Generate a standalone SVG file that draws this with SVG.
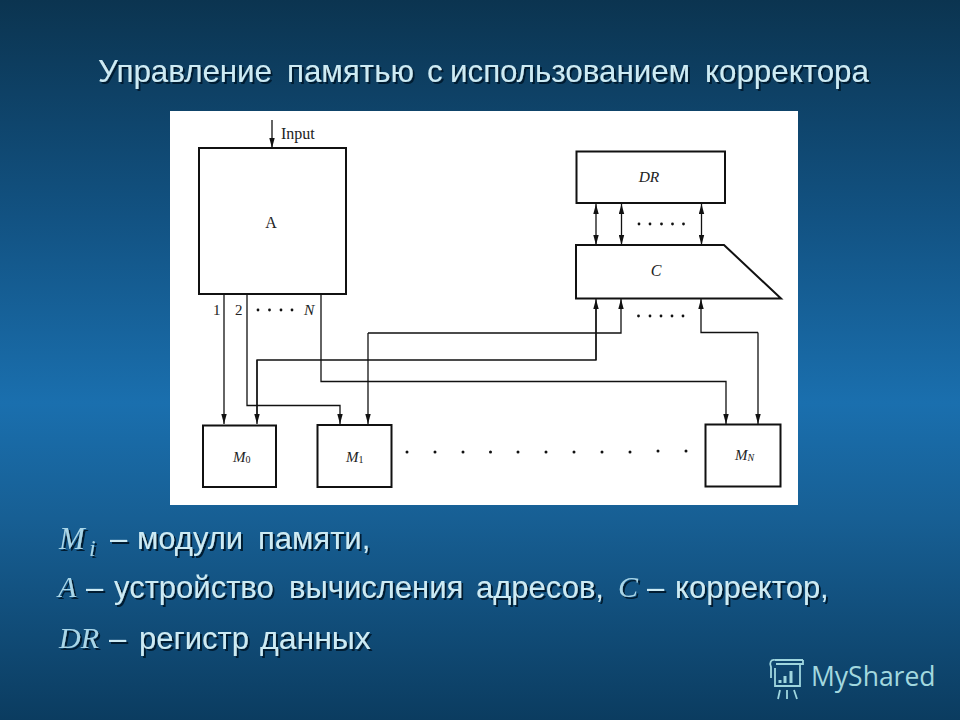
<svg xmlns="http://www.w3.org/2000/svg" width="960" height="720" viewBox="0 0 960 720">
<defs>
<linearGradient id="bg" x1="0" y1="0" x2="0" y2="1">
<stop offset="0" stop-color="#0b3450"/>
<stop offset="0.3" stop-color="#125282"/>
<stop offset="0.56" stop-color="#1a6fae"/>
<stop offset="0.72" stop-color="#175f94"/>
<stop offset="1" stop-color="#0b3c60"/>
</linearGradient>
<filter id="sh" x="-5%" y="-20%" width="110%" height="150%">
<feDropShadow dx="2" dy="2" stdDeviation="0.7" flood-color="#041c30" flood-opacity="1"/>
</filter>
<marker id="ah" markerWidth="10" markerHeight="6" refX="10" refY="3" orient="auto-start-reverse" markerUnits="userSpaceOnUse" viewBox="0 0 10 6">
<path d="M0,0.300 L10,3 L0,5.700 Z" fill="#111"/>
</marker>
</defs>
<style>
.box{fill:#fff;stroke:#111;stroke-width:2}
.w{fill:none;stroke:#111;stroke-width:1.300}
.a{marker-end:url(#ah)}
.d{marker-end:url(#ah);marker-start:url(#ah)}
.dot{fill:#111}
.s{font-family:"Liberation Serif",serif;fill:#222}
.si{font-family:"Liberation Serif",serif;font-style:italic;fill:#222}
.t{font-family:"Liberation Sans",sans-serif;fill:#cdebf4}
.h{font-size:31.300px}
.b{font-size:31px}
.ti{font-family:"Liberation Serif",serif;font-style:italic;fill:#a9d6e8}
</style>
<rect width="960" height="720" fill="url(#bg)"/>
<g filter="url(#sh)">
<text class="t h" x="98" y="81.500">Управление</text>
<text class="t h" x="287" y="81.500">памятью</text>
<text class="t h" x="427" y="81.500">с</text>
<text class="t h" x="450" y="81.500">использованием</text>
<text class="t h" x="705" y="81.500">корректора</text>
</g>
<rect x="170" y="111" width="628" height="394" fill="#fff"/>
<g id="connectors">
<path class="w a" d="M272,120V148"/>
<path class="w a" d="M224,294V424"/>
<path class="w a" d="M247,294V405.500H340V424"/>
<path class="w a" d="M321,294V381.500H726V424"/>
<path class="w" d="M257,415V360H596V308"/>
<path class="w a" d="M257,360V424"/>
<path class="w a" d="M596,360V299"/>
<path class="w a" d="M368,333V424"/>
<path class="w a" d="M368,333H621V299"/>
<path class="w a" d="M758,332.500V424"/>
<path class="w a" d="M758,332.500H701V299"/>
<path class="w d" d="M596,204V245"/>
<path class="w d" d="M621.500,204V245"/>
<path class="w d" d="M701.500,204V245"/>
</g>
<g id="node-a"><rect class="box" x="199" y="148" width="147" height="146"/><text class="s" x="271" y="228" font-size="16" text-anchor="middle">A</text></g>
<g id="node-input-label"><text class="s" x="281" y="139" font-size="16">Input</text></g>
<g id="node-dr"><rect class="box" x="576.500" y="151.500" width="148.500" height="51.500"/><text class="si" x="649" y="182" font-size="15.500" text-anchor="middle">DR</text></g>
<g id="node-c"><path class="box" d="M576,245H724L781,298.500H576Z"/><text class="si" x="656" y="276" font-size="16" text-anchor="middle">C</text></g>
<g id="node-m0"><rect class="box" x="203" y="425.500" width="73" height="61.500"/><text class="si" x="233" y="462" font-size="15">M<tspan font-size="10" font-style="normal" dy="1">0</tspan></text></g>
<g id="node-m1"><rect class="box" x="317.500" y="425" width="74" height="62"/><text class="si" x="346" y="462" font-size="15">M<tspan font-size="10" font-style="normal" dy="1">1</tspan></text></g>
<g id="node-mn"><rect class="box" x="705.500" y="424.500" width="75" height="62"/><text class="si" x="735" y="460" font-size="15">M<tspan font-size="10" dy="1">N</tspan></text></g>
<g id="port-labels">
<text class="s" x="213" y="315" font-size="15">1</text>
<text class="s" x="235" y="315" font-size="15">2</text>
<text class="si" x="304" y="315" font-size="15.500">N</text>
</g>
<g id="dots" class="dot">
<circle cx="258" cy="310" r="1.400"/><circle cx="269.500" cy="310" r="1.400"/><circle cx="281" cy="310" r="1.400"/><circle cx="292" cy="310" r="1.400"/>
<circle cx="639" cy="224" r="1.400"/><circle cx="650" cy="224" r="1.400"/><circle cx="661.500" cy="224" r="1.400"/><circle cx="672.500" cy="224" r="1.400"/><circle cx="683.500" cy="224" r="1.400"/>
<circle cx="638.500" cy="316" r="1.400"/><circle cx="650" cy="316" r="1.400"/><circle cx="661" cy="316" r="1.400"/><circle cx="672" cy="316" r="1.400"/><circle cx="683" cy="316" r="1.400"/>
<circle cx="407" cy="452" r="1.500"/><circle cx="435" cy="452" r="1.500"/><circle cx="463" cy="452" r="1.500"/><circle cx="490.500" cy="452" r="1.500"/><circle cx="518" cy="452" r="1.500"/><circle cx="546" cy="452" r="1.500"/><circle cx="574" cy="452" r="1.500"/><circle cx="602" cy="452" r="1.500"/><circle cx="630" cy="452" r="1.500"/><circle cx="658" cy="451" r="1.500"/><circle cx="686" cy="451" r="1.500"/>
</g>
<g filter="url(#sh)">
<text class="ti" x="59" y="549" font-size="31">M</text>
<text class="ti" x="89" y="556" font-size="24">i</text>
<text class="t b" x="110" y="548.500">–</text>
<text class="t b" x="137" y="548.500">модули</text>
<text class="t b" x="258" y="548.500">памяти,</text>
<text class="ti" x="58" y="597" font-size="30">A</text>
<text class="t b" x="86" y="597.500">–</text>
<text class="t b" x="114" y="597.500">устройство</text>
<text class="t b" x="289" y="597.500">вычисления</text>
<text class="t b" x="476" y="597.500">адресов,</text>
<text class="ti" x="618" y="597" font-size="30">C</text>
<text class="t b" x="647" y="597.500">–</text>
<text class="t b" x="675" y="597.500">корректор,</text>
<text class="ti" x="59" y="648" font-size="30">DR</text>
<text class="t b" x="109" y="648.500">–</text>
<text class="t b" x="139" y="648.500">регистр</text>
<text class="t" x="260" y="648.500" font-size="32">данных</text>
</g>
<g id="logo" fill="none" stroke="#9fd6de" stroke-width="1.800">
<path d="M775,660H803M775,660C771,659 769,663 771,667V678M803,660V664H776M776,664H800V686H775V668"/>
<path d="M780,690L778,699M787,690V699M794,690L797,699"/>
<path d="M780,683V680M785,683V676M791,683V671" stroke-width="3"/>
</g>
<text x="811" y="686" font-family="'Open Sans',sans-serif" font-size="26.500" fill="#a2d8df">MyShared</text>
</svg>
